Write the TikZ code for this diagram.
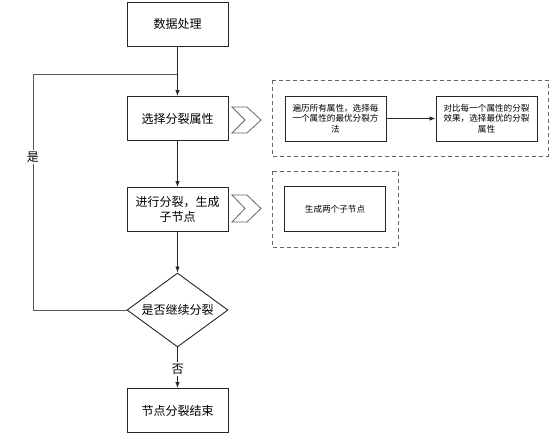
\documentclass[tikz,border=0pt]{standalone}
\usepackage{fontspec}
\setmainfont{Noto Sans CJK SC}
\usetikzlibrary{shapes.geometric,arrows.meta}
\begin{document}
\begin{tikzpicture}[x=1pt,y=-1pt,
  mainbox/.style={draw=black!85,fill=white,line width=0.9pt,minimum width=101pt,minimum height=44pt,inner sep=2pt,font=\fontsize{12}{15}\selectfont,align=center,text width=95pt},
  smallbox/.style={draw=black!85,fill=white,line width=0.9pt,minimum width=101pt,minimum height=45pt,inner sep=2pt,font=\fontsize{8.6}{10.5}\selectfont,align=center,text width=95pt},
  grpbox/.style={draw=black!60,dash pattern=on 4pt off 3pt,line width=0.8pt},
  flow/.style={draw=black!85,line width=0.8pt,-{Latex[length=6pt,width=4.5pt]}},
  loopline/.style={draw=black!65,line width=0.8pt},
  lbl/.style={fill=white,inner sep=1.5pt,font=\fontsize{12}{14}\selectfont},
  chev/.style={draw=black!60,fill=white,line width=0.8pt}
]
\useasboundingbox (0,0) rectangle (554,440);
\node[mainbox] (data) at (177.5,24) {数据处理};
\node[mainbox] (sel) at (177.5,118.5) {选择分裂属性};
\node[mainbox] (split) at (177.5,209.5) {进行分裂，生成\\子节点};
\node[diamond,draw=black!85,fill=white,line width=0.9pt,minimum width=101pt,minimum height=74pt,aspect=1.36,inner sep=0pt,font=\fontsize{12}{15}\selectfont] (dec) at (177.5,310) {};
\node[font=\fontsize{12}{15}\selectfont] at (dec.center) {是否继续分裂};
\node[mainbox] (end) at (177.5,410.5) {节点分裂结束};

\coordinate (J) at (177.5,74);
\coordinate (L) at (33,74);
\draw[loopline] (dec.west) -| (L) -- (J);
\node[lbl] (yes) at (33,157) {是};
\draw[flow] (data) -- (sel);
\draw[flow] (sel) -- (split);
\draw[flow] (split) -- (dec.north);
\draw[flow] (dec.south) -- (end);
\node[lbl] (no) at (177.5,369) {否};

% chevrons
\draw[chev] (232,107) -- (247,107) -- (261,120) -- (247,133) -- (232,133) -- (245,120) -- cycle;
\draw[chev] (232,195) -- (247,195) -- (261,208.5) -- (247,222) -- (232,222) -- (245,208.5) -- cycle;

% group 1
\draw[grpbox] (272,80) rectangle (548,156);
\node[smallbox] (a) at (335.5,118.5) {遍历所有属性，选择每\\一个属性的最优分裂方\\法};
\node[smallbox] (b) at (486.5,118.5) {对比每一个属性的分裂\\效果，选择最优的分裂\\属性};
\draw[flow] (a) -- (b);

% group 2
\draw[grpbox] (272,171) rectangle (398,247);
\node[smallbox] (c) at (335,209) {生成两个子节点};
\end{tikzpicture}
\end{document}
